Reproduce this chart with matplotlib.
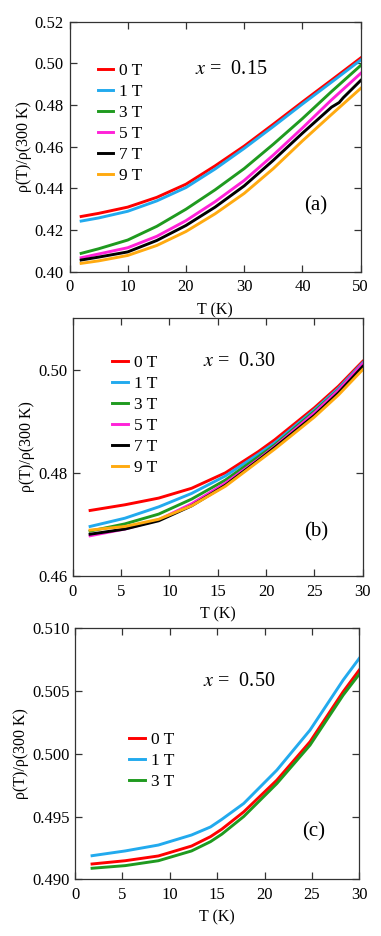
import matplotlib
matplotlib.use("Agg")
import matplotlib.pyplot as plt

plt.rcParams['font.family'] = ['Liberation Serif', 'DejaVu Serif']
plt.rcParams['mathtext.fontset'] = 'stix'

# ---------------- data ----------------
# (a) x = 0.15
fields_a = ["0 T", "1 T", "3 T", "5 T", "7 T", "9 T"]
T_a = [2, 5, 10, 15, 20, 25, 30, 35, 40, 45, 50]
rho_a_0T = [0.4265, 0.4280, 0.4310, 0.4357, 0.4420, 0.4508, 0.4603, 0.4708, 0.4815, 0.4920, 0.5026]
rho_a_1T = [0.4243, 0.4258, 0.4290, 0.4340, 0.4404, 0.4493, 0.4592, 0.4697, 0.4805, 0.4910, 0.5016]
rho_a_3T = [0.4088, 0.4110, 0.4152, 0.4218, 0.4300, 0.4393, 0.4495, 0.4612, 0.4735, 0.4865, 0.4990]
rho_a_5T = [0.4067, 0.4085, 0.4115, 0.4170, 0.4245, 0.4336, 0.4438, 0.4560, 0.4690, 0.4825, 0.4952]
T_a7 = [2, 5, 10, 15, 20, 25, 30, 35, 40, 45, 46.3, 47.0, 50]
rho_a_7T = [0.4056, 0.4070, 0.4095, 0.4150, 0.4222, 0.4310, 0.4412, 0.4535, 0.4665, 0.4790, 0.4812, 0.4835, 0.4918]
rho_a_9T = [0.4040, 0.4052, 0.4078, 0.4126, 0.4193, 0.4278, 0.4376, 0.4495, 0.4628, 0.4755, 0.4880]

# (b) x = 0.30
fields_b = ["0 T", "1 T", "3 T", "5 T", "7 T", "9 T"]
T_b = [1.8, 5.4, 8.9, 12.3, 15.8, 19.2, 20.9, 25, 27.5, 30]
rho_b_0T = [0.4727, 0.4738, 0.4751, 0.4770, 0.4800, 0.4841, 0.4864, 0.4926, 0.4968, 0.5016]
rho_b_1T = [0.4696, 0.4712, 0.4734, 0.4760, 0.4794, 0.4836, 0.4858, 0.4922, 0.4964, 0.5013]
rho_b_3T = [0.4687, 0.4701, 0.4720, 0.4749, 0.4786, 0.4831, 0.4854, 0.4919, 0.4961, 0.5010]
rho_b_5T = [0.4678, 0.4691, 0.4709, 0.4740, 0.4780, 0.4826, 0.4851, 0.4916, 0.4960, 0.5011]
rho_b_7T = [0.4681, 0.4691, 0.4707, 0.4736, 0.4776, 0.4824, 0.4849, 0.4911, 0.4955, 0.5006]
rho_b_9T = [0.4689, 0.4696, 0.4710, 0.4736, 0.4774, 0.4822, 0.4846, 0.4908, 0.4951, 0.5000]

# (c) x = 0.50
fields_c = ["0 T", "1 T", "3 T"]
T_c = [1.8, 5.3, 8.8, 12.3, 14.3, 15.5, 17.8, 21.3, 24.8, 28.3, 30]
rho_c_0T = [0.49122, 0.49148, 0.49186, 0.49265, 0.49340, 0.49400, 0.49537, 0.49790, 0.50096, 0.50495, 0.50668]
rho_c_1T = [0.49188, 0.49226, 0.49273, 0.49353, 0.49417, 0.49478, 0.49604, 0.49870, 0.50189, 0.50588, 0.50761]
rho_c_3T = [0.49088, 0.49109, 0.49148, 0.49226, 0.49300, 0.49360, 0.49500, 0.49763, 0.50069, 0.50468, 0.50635]

colors = ["#ff0000", "#22aaee", "#1f9a1f", "#ff22d8", "#000000", "#ffaa10"]

W, H = 381, 936
fig = plt.figure(figsize=(W / 100, H / 100), dpi=100)


def px_axes(left, top, right, bottom):
    return fig.add_axes([left / W, 1 - bottom / H, (right - left) / W, (bottom - top) / H])


def style(ax):
    for s in ax.spines.values():
        s.set_linewidth(0.9)
        s.set_color('#333333')
    ax.tick_params(direction='in', top=True, right=True, length=5, width=0.9,
                   labelsize=12, pad=4, color='#333333')
    ax.tick_params(axis='x', pad=5.5)
    ax.set_xlabel("T (K)", fontsize=11.5, labelpad=5)
    ax.set_ylabel("ρ(T)/ρ(300 K)", fontsize=11.5, labelpad=2)


def legend(ax, x, y):
    ax.legend(loc='upper left', bbox_to_anchor=(x, y), frameon=False, fontsize=12.5,
              handlelength=0.9, handletextpad=0.35, labelspacing=0.28, borderpad=0,
              borderaxespad=0)


lw = 2.1
fs_x = 14.5
fs_p = 15

# ---- (a)
ax = px_axes(69.5, 21.7, 360.7, 271.7)
series_a = [(T_a, rho_a_0T), (T_a, rho_a_1T), (T_a, rho_a_3T), (T_a, rho_a_5T), (T_a7, rho_a_7T), (T_a, rho_a_9T)]
for (t, r), lab, c in zip(series_a, fields_a, colors):
    ax.plot(t, r, color=c, lw=lw, label=lab)
ax.set_xlim(0, 50)
ax.set_ylim(0.40, 0.52)
ax.set_xticks([0, 10, 20, 30, 40, 50])
yt = [0.40, 0.42, 0.44, 0.46, 0.48, 0.50, 0.52]
ax.set_yticks(yt)
ax.set_yticklabels([f"{v:.2f}" for v in yt])
style(ax)
legend(ax, 0.097, 0.837)
ax.text(0.43, 0.81, "$x$ =  0.15", transform=ax.transAxes, fontsize=fs_x, va='center')
ax.text(0.847, 0.263, "(a)", transform=ax.transAxes, fontsize=fs_p, va='center', ha='center')

# ---- (b)
ax = px_axes(72.7, 318, 362.7, 576)
series_b = [rho_b_0T, rho_b_1T, rho_b_3T, rho_b_5T, rho_b_7T, rho_b_9T]
for r, lab, c in zip(series_b, fields_b, colors):
    ax.plot(T_b, r, color=c, lw=lw, label=lab)
ax.set_xlim(0, 30)
ax.set_ylim(0.46, 0.51)
ax.set_xticks([0, 5, 10, 15, 20, 25, 30])
ax.set_yticks([0.46, 0.48, 0.50])
ax.set_yticklabels(["0.46", "0.48", "0.50"])
style(ax)
legend(ax, 0.137, 0.857)
ax.text(0.45, 0.83, "$x$ =  0.30", transform=ax.transAxes, fontsize=fs_x, va='center')
ax.text(0.84, 0.17, "(b)", transform=ax.transAxes, fontsize=fs_p, va='center', ha='center')

# ---- (c)
ax = px_axes(75, 628.3, 359.3, 879.3)
series_c = [rho_c_0T, rho_c_1T, rho_c_3T]
for r, lab, c in zip(series_c, fields_c, colors[:3]):
    ax.plot(T_c, r, color=c, lw=lw, label=lab)
ax.set_xlim(0, 30)
ax.set_ylim(0.490, 0.510)
ax.set_xticks([0, 5, 10, 15, 20, 25, 30])
yt = [0.490, 0.495, 0.500, 0.505, 0.510]
ax.set_yticks(yt)
ax.set_yticklabels([f"{v:.3f}" for v in yt])
style(ax)
legend(ax, 0.19, 0.588)
ax.text(0.451, 0.787, "$x$ =  0.50", transform=ax.transAxes, fontsize=fs_x, va='center')
ax.text(0.838, 0.19, "(c)", transform=ax.transAxes, fontsize=fs_p, va='center', ha='center')

fig.savefig("out.png", dpi=100)
